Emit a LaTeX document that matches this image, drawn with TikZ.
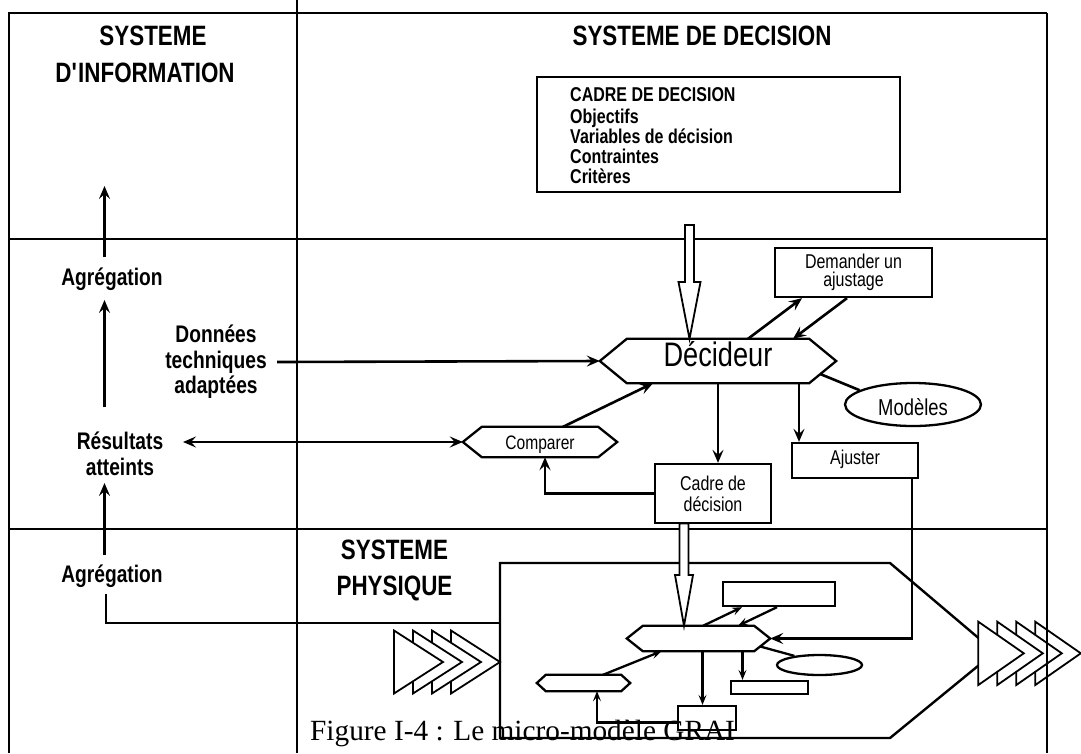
\documentclass[tikz,border=0pt]{standalone}
\usepackage{fontspec}
\setmainfont{Liberation Serif}
\newfontfamily\lblfont{Liberation Sans}[FakeStretch=0.8]
\usetikzlibrary{arrows.meta,shapes.geometric}
% hexagonal outline around a (rectangular) node: #1 node name, #2 corner inset in pt
\newcommand\hexoutline[2]{%
  \draw[boxline] (#1.west) -- ([xshift=#2pt]#1.north west) -- ([xshift=-#2pt]#1.north east)
    -- (#1.east) -- ([xshift=-#2pt]#1.south east) -- ([xshift=#2pt]#1.south west) -- cycle;}
\begin{document}
\begin{tikzpicture}[x=1pt,y=-1pt,
  frame/.style={line width=1.7pt},
  boxline/.style={line width=2.3pt, line join=miter},
  conn/.style={line width=2.6pt},
  thinconn/.style={line width=2.3pt},
  bigtip/.style={-{Stealth[length=13pt,width=11pt,inset=5pt]}},
  bothtips/.style={{Stealth[length=13pt,width=11pt,inset=5pt]}-{Stealth[length=13pt,width=11pt,inset=5pt]}},
  smalltip/.style={-{Stealth[length=10pt,width=8pt,inset=4pt]}},
  hollow/.style={fill=white, draw, line width=1.8pt, line join=miter},
  chevron/.style={fill=white, draw, line width=1.8pt, line join=miter},
  title/.style={font=\lblfont\bfseries\fontsize{28}{36}\selectfont, inner sep=0pt, align=center},
  label/.style={font=\lblfont\bfseries\fontsize{24}{25.5}\selectfont, inner sep=0pt, align=center},
  plain/.style={font=\lblfont\fontsize{20}{18}\selectfont, inner sep=0pt, align=center},
  rectbox/.style={draw, boxline, inner sep=0pt},
  hexnode/.style={inner sep=0pt},
]
\fill[white] (0,0) rectangle (1081,753);
\useasboundingbox (0,0) rectangle (1081,753);

% ---- frame of the three systems ----
\draw[frame] (9,753) -- (9,13) -- (1047,13);
\draw[frame] (297,0) -- (297,753);
\draw[frame] (9,239) -- (1047,239);
\draw[frame] (9,529) -- (1047,529);

% ---- titles ----
\node[title] (infoA) at (153,36) {SYSTEME};
\node[title] (infoB) at (145,73) {D\textquotesingle INFORMATION};
\node[title] (decT) at (702,36) {SYSTEME DE DECISION};
\node[title] (phyT) at (394.5,570) {SYSTEME\\PHYSIQUE};

% ---- decision frame ----
\node[rectbox, minimum width=363pt, minimum height=115pt] (cadre) at (718.5,134.5) {};
\node[font=\lblfont\bfseries\fontsize{20}{20}\selectfont, align=left, anchor=north west, inner sep=0pt]
  (cadreTxt) at (570,87.5) {CADRE DE DECISION\\[1.5pt]Objectifs\\Variables de décision\\Contraintes\\Critères};

% ---- information column ----
\node[label, text height=17.2pt, text depth=0pt] (agr1) at (112,277) {Agrégation};
\node[label] (don) at (216,362) {Données\\techniques\\adaptées};
\node[label] (res) at (120,454) {Résultats\\atteints};
\node[label, text height=17.2pt, text depth=0pt] (agr2) at (112,574) {Agrégation};
\coordinate (infoTop) at (104.5,186);
\coordinate (agrOneTop) at (104.5,257);
\coordinate (agrOneIn) at (104.5,300);
\coordinate (resTop) at (104.5,407);
\coordinate (resIn) at (104.5,483);
\coordinate (agrTwoTop) at (104.5,555);
\coordinate (agrTwoLow) at (106,594);
\coordinate (donEnd) at (277,362);
\coordinate (resEnd) at (183,442);
\coordinate (physIn) at (500,623);

% ---- decision centre ----
\node[hexnode, minimum width=236pt, minimum height=44pt, font=\lblfont\fontsize{34}{34}\selectfont,
  text height=24.4pt, text depth=13pt] (dec) at (718,361) {Décideur};
\node[rectbox, plain, minimum width=157pt, minimum height=49pt] (dem) at (853.5,272.5) {Demander un\\ajustage};
\node[ellipse, draw, boxline, inner sep=0pt, minimum width=136pt, minimum height=43pt,
  font=\lblfont\fontsize{23}{23}\selectfont, text height=21pt, text depth=0pt] (mod) at (913,404.5) {Modèles};
\node[rectbox, plain, minimum width=126pt, minimum height=35pt, text height=14pt, text depth=7pt] (aju) at (855,460.5) {Ajuster};
\node[rectbox, plain, minimum width=116pt, minimum height=59pt, font=\lblfont\fontsize{20}{21}\selectfont] (cdd) at (713,493.5) {Cadre de\\décision};
\node[hexnode, plain, minimum width=154pt, minimum height=30pt, font=\lblfont\fontsize{19.5}{20}\selectfont,
  text height=14pt, text depth=0pt] (cmp) at (540,442) {Comparer};

% ---- physical system ----
\draw[line width=2.4pt, line join=miter] (500,563) -- (890,563) -- (995,652) -- (890,738) -- (500,738) -- cycle;
\foreach \bx in {451,432,413,394}
  \filldraw[chevron] (\bx,630.5) -- (\bx+49,662) -- (\bx,693.5) -- cycle;
\foreach \bx in {1035.3,1016.3,997.3,978.3}
  \filldraw[chevron] (\bx,621.7) -- (\bx+45.5,653.3) -- (\bx,685) -- cycle;
\draw[frame] (1047,13) -- (1047,753);

\node[hexnode, minimum width=143pt, minimum height=25pt] (mhex) at (698.5,638.5) {};
\node[rectbox, minimum width=112pt, minimum height=24pt] (mdem) at (779,594) {};
\node[ellipse, draw, boxline, inner sep=0pt, minimum width=85pt, minimum height=20pt] (mell) at (819.5,665) {};
\node[rectbox, minimum width=77pt, minimum height=13pt] (maju) at (769.5,687.5) {};
\node[rectbox, minimum width=58pt, minimum height=24pt] (mcdd) at (707,718) {};
\node[hexnode, minimum width=93pt, minimum height=16pt] (mcmp) at (583.5,683) {};

% ---- hollow arrows carrying the decision frame ----
\filldraw[hollow] (685,225) -- (694,225) -- (694,282) -- (700.5,282) -- ([xshift=-28.5pt]dec.north)
  -- (678.5,282) -- (685,282) -- cycle;
\filldraw[hollow] (679.5,523.5) -- (688.5,523.5) -- (688.5,575) -- (693,575) -- ([xshift=-14.5pt]mhex.north)
  -- (675,575) -- (679.5,575) -- cycle;

\hexoutline{dec}{27}
\hexoutline{cmp}{19}
\hexoutline{mhex}{16}
\hexoutline{mcmp}{9}

% ---- information flows ----
\draw[conn,bigtip] (agrOneTop) -- (infoTop);
\draw[conn,bigtip] (resTop) -- (agrOneIn);
\draw[conn,bigtip] (agrTwoTop) -- (resIn);
\draw[frame] (agrTwoLow) |- (physIn);
\draw[conn,bigtip] (donEnd) -- (dec.west);
\draw[conn,bothtips] (resEnd) -- (cmp.west);

% ---- decision flows ----
\draw[conn,bigtip] ([xshift=23pt]cmp.north) -- ([xshift=-65pt]dec.south);
\draw[conn,bigtip] ([xshift=30pt]dec.north) -- ([xshift=-51.5pt]dem.south);
\draw[conn,bigtip] ([xshift=-6.5pt]dem.south) -- ([xshift=75pt]dec.north);
\draw[conn] ([xshift=-16pt,yshift=-13pt]dec.east) -- (mod.165);
\draw[conn,bigtip] (dec.south) -- (dec.south |- cdd.north);
\coordinate (decAj) at ([xshift=81pt]dec.south);
\draw[conn,bigtip] (decAj) -- (decAj |- aju.north);
\draw[conn,bigtip] (cdd.west) -| ([xshift=5pt]cmp.south);
\draw[thinconn,bigtip] ([xshift=57pt]aju.south) |- (mhex.east);

% ---- flows inside the physical system ----
\draw[thinconn,smalltip] ([xshift=4.5pt]mhex.north) -- ([xshift=-37pt]mdem.south);
\draw[thinconn,smalltip] ([xshift=-2pt]mdem.south) -- ([xshift=39.5pt]mhex.north);
\draw[thinconn] ([xshift=-10pt,yshift=-8pt]mhex.east) -- (mell.160);
\coordinate (mhA) at ([xshift=44pt]mhex.south);
\draw[thinconn,smalltip] (mhA) -- (mhA |- maju.north);
\coordinate (mhC) at ([xshift=4pt]mhex.south);
\draw[thinconn,smalltip] (mhC) -- (mhC |- mcdd.north);
\draw[thinconn,smalltip] ([xshift=19.5pt]mcmp.north) -- ([xshift=-37pt]mhex.south);
\draw[thinconn,smalltip] ([yshift=-4.5pt]mcdd.west) -| ([xshift=13.5pt]mcmp.south);

% ---- caption ----
\node[anchor=base west, inner sep=0pt, font=\fontsize{29.3}{30}\selectfont] (caption) at (310,740)
  {Figure I-4 : Le micro-modèle GRAI};
\end{tikzpicture}
\end{document}
